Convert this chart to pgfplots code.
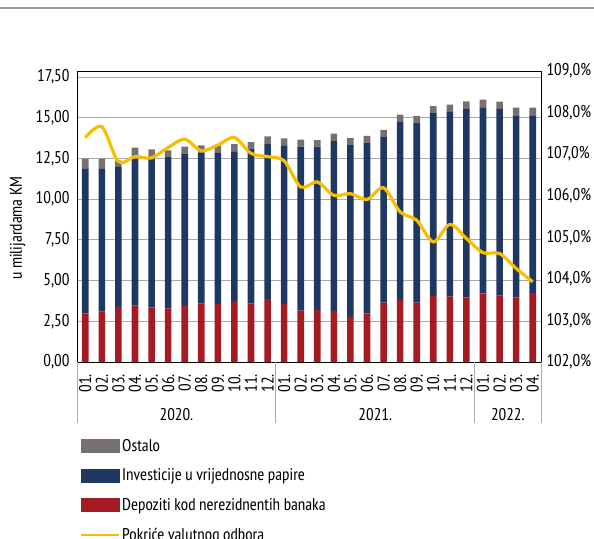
\documentclass[border=0pt]{standalone}
\usepackage{fontspec}
\setmainfont{PT Sans Narrow}
\usepackage{pgfplots}
\pgfplotsset{compat=1.18}
\definecolor{ostalo}{RGB}{118,113,112}
\definecolor{invest}{RGB}{30,56,98}
\definecolor{depoz}{RGB}{165,27,35}
\definecolor{pokr}{RGB}{250,190,0}
\definecolor{gridc}{RGB}{170,170,170}

% monthly values, bn KM (stack segments) and coverage in %
\pgfplotstableread{
x dep inv ost pok
0  2.98 8.88 0.63 107.40
1  3.09 8.77 0.63 107.66
2  3.39 8.63 0.34 106.82
3  3.46 9.03 0.67 106.94
4  3.35 9.14 0.56 106.91
5  3.29 9.29 0.42 107.16
6  3.50 9.26 0.46 107.36
7  3.60 9.22 0.48 107.08
8  3.56 9.32 0.42 107.22
9  3.76 9.18 0.44 107.40
10 3.60 9.50 0.41 107.02
11 3.86 9.54 0.45 106.94
12 3.56 9.74 0.43 106.84
13 3.15 10.07 0.43 106.21
14 3.19 10.03 0.41 106.33
15 3.13 10.44 0.45 106.01
16 2.77 10.55 0.43 106.05
17 2.98 10.46 0.45 105.91
18 3.64 10.17 0.45 106.19
19 3.80 10.93 0.46 105.61
20 3.64 11.03 0.44 105.41
21 4.05 11.24 0.43 104.89
22 4.01 11.35 0.45 105.31
23 3.97 11.57 0.47 104.97
24 4.21 11.43 0.47 104.63
25 4.07 11.47 0.45 104.61
26 3.97 11.18 0.47 104.25
27 4.25 10.90 0.47 103.93
}\data

\begin{document}
\begin{tikzpicture}[font=\fontsize{17}{20}\selectfont]
\draw[gray!80, line width=1.5pt] (0pt,-8pt) -- (594pt,-8pt);
\begin{axis}[
    at={(77pt,-362pt)}, anchor=south west,
    scale only axis, width=464pt, height=291pt,
    ybar stacked, bar width=0.4, bar shift=0pt,
    xmin=-0.5, xmax=27.5,
    ymin=0, ymax=17.87,
    ytick={0,2.5,...,17.5},
    xtick={0,...,27},
    xticklabels={01.,02.,03.,04.,05.,06.,07.,08.,09.,10.,11.,12.,
                 01.,02.,03.,04.,05.,06.,07.,08.,09.,10.,11.,12.,
                 01.,02.,03.,04.},
    xticklabel style={rotate=90, anchor=east, inner sep=1pt},
    xticklabel shift=11pt,
    yticklabel style={/pgf/number format/.cd, fixed, fixed zerofill,
                      precision=2, use comma, /tikz/.cd, xshift=-4pt},
    /pgf/number format/assume math mode=true,
    major tick length=0pt,
    axis y line*=left, axis x line*=bottom,
    ymajorgrids, grid style={gridc, line width=0.8pt},
    axis line style={black, line width=0.8pt},
    ylabel={u milijardama KM},
    ylabel style={at={(axis description cs:-0.103,0.46)}},
    clip=false,
    legend style={at={(axis description cs:0.0065,-0.258)}, anchor=north west,
        draw=none, fill=none, inner sep=0pt, row sep=12pt,
        font=\fontsize{17}{20}\selectfont,
        nodes={inner sep=2pt}},
    legend cell align=left,
]
\addplot[fill=depoz, draw=none, forget plot] table[x=x, y=dep] {\data};
\addplot[fill=invest, draw=none, forget plot] table[x=x, y=inv] {\data};
\addplot[fill=ostalo, draw=none, forget plot] table[x=x, y=ost] {\data};

\addlegendimage{legend image code/.code={\fill[ostalo] (0pt,-6.5pt) rectangle (38pt,6.5pt);}}
\addlegendentry{Ostalo}
\addlegendimage{legend image code/.code={\fill[invest] (0pt,-6.5pt) rectangle (38pt,6.5pt);}}
\addlegendentry{Investicije u vrijednosne papire}
\addlegendimage{legend image code/.code={\fill[depoz] (0pt,-6.5pt) rectangle (38pt,6.5pt);}}
\addlegendentry{Depoziti kod nerezidnentih banaka}
\addlegendimage{legend image code/.code={\draw[pokr, line width=2pt] (0pt,0pt) -- (38pt,0pt);}}
\addlegendentry{Pokriće valutnog odbora}

\draw[black, line width=0.8pt] (rel axis cs:0,1) -- (rel axis cs:1,1);
\draw[gridc, line width=0.8pt] (axis cs:-0.5,0) -- ++(0pt,-61pt);
\draw[gridc, line width=0.8pt] (axis cs:11.5,0) -- ++(0pt,-61pt);
\draw[gridc, line width=0.8pt] (axis cs:23.5,0) -- ++(0pt,-61pt);
\draw[gridc, line width=0.8pt] (axis cs:27.5,0) -- ++(0pt,-61pt);
\node at ([yshift=-53pt]axis cs:5.5,0) {2020.};
\node at ([yshift=-53pt]axis cs:17.5,0) {2021.};
\node at ([yshift=-53pt]axis cs:25.5,0) {2022.};
\end{axis}

\begin{axis}[
    at={(77pt,-362pt)}, anchor=south west,
    scale only axis, width=464pt, height=291pt,
    xmin=-0.5, xmax=27.5,
    ymin=102, ymax=109,
    ytick={102,...,109},
    axis y line*=right, axis x line=none,
    axis line style={black, line width=0.8pt},
    major tick length=0pt,
    yticklabel={\pgfmathprintnumber[fixed, fixed zerofill, precision=1,
        use comma, assume math mode=true]{\tick}\%},
    yticklabel style={xshift=2pt},
]
\addplot[pokr, line width=3.2pt, smooth, tension=0.5, no marks]
    table[x=x, y=pok] {\data};
\end{axis}
\pgfresetboundingbox
\useasboundingbox (0pt,0pt) rectangle (594pt,-538pt);
\end{tikzpicture}
\end{document}
